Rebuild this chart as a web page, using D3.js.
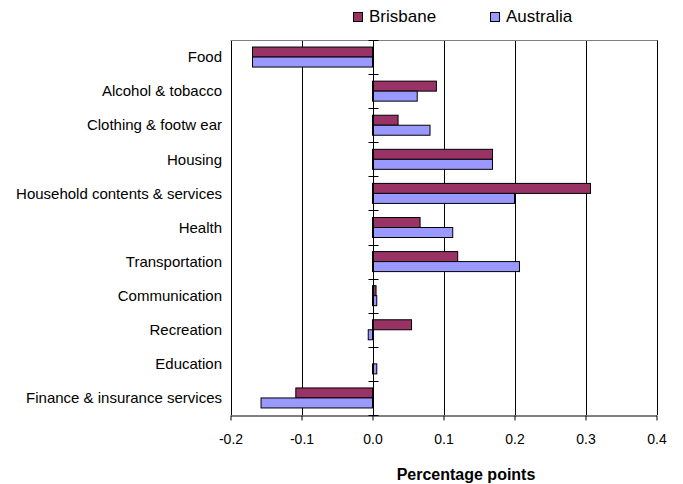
<!DOCTYPE html>
<html><head><meta charset="utf-8">
<script src="https://cdn.jsdelivr.net/npm/d3@7"></script>
<style>body{margin:0;background:#fff}svg{display:block}text{font-family:"Liberation Sans",Arial,sans-serif}</style>
</head><body><svg id="c" width="683" height="484"></svg>
<script>
const categories = ["Food","Alcohol & tobacco","Clothing & footw ear","Housing","Household contents & services","Health","Transportation","Communication","Recreation","Education","Finance & insurance services"];
const seriesNames = ["Brisbane","Australia"];
const brisbane = [-0.169,0.090,0.036,0.169,0.307,0.067,0.120,0.005,0.055,0.0,-0.108];
const australia = [-0.169,0.063,0.081,0.169,0.200,0.113,0.207,0.006,-0.006,0.006,-0.157];
const xTicks = [-0.2,-0.1,0.0,0.1,0.2,0.3,0.4];
const xTickLabels = ["-0.2","-0.1","0.0","0.1","0.2","0.3","0.4"];
const colors = ["#993366","#9999FF"];

const svg = d3.select("#c");
const m = {left:230.5, right:656.5, top:40, bottom:415};
const x = d3.scaleLinear().domain([-0.2,0.4]).range([m.left,m.right]);
const y = d3.scaleBand().domain(categories).range([m.top,m.bottom]).paddingInner(0).paddingOuter(0);

// gridlines
svg.append("g").selectAll("line").data(xTicks).join("line")
  .attr("x1",d=>Math.round(x(d))+0.5).attr("x2",d=>Math.round(x(d))+0.5)
  .attr("y1",m.top).attr("y2",m.bottom).attr("stroke","#000").attr("stroke-width",1);
// top border
svg.append("line").attr("x1",m.left).attr("x2",m.right+1).attr("y1",m.top+0.5).attr("y2",m.top+0.5).attr("stroke","#808080");

const data = categories.map((c,i)=>({c, vals:[brisbane[i],australia[i]]}));
const barH = 10;
const g = svg.append("g");
data.forEach(d=>{
  d.vals.forEach((v,j)=>{
    const y0 = y(d.c) + y.bandwidth()/2 - barH + j*barH;
    if (v===0) return;
    g.append("rect").attr("x",x(Math.min(0,v))).attr("width",Math.abs(x(v)-x(0)))
      .attr("y",y0).attr("height",barH).attr("fill",colors[j]).attr("stroke","#000").attr("stroke-width",1);
  });
});

// zero axis with ticks at category boundaries
const zx = Math.round(x(0))+0.5;
svg.append("line").attr("x1",zx).attr("x2",zx).attr("y1",m.top).attr("y2",m.bottom).attr("stroke","#000");
const bounds = d3.range(categories.length+1).map(i=>m.top + i*y.step());
svg.append("g").selectAll("line").data(bounds).join("line")
  .attr("x1",zx-5).attr("x2",zx+5).attr("y1",d=>Math.round(d)+0.5).attr("y2",d=>Math.round(d)+0.5).attr("stroke","#000");

// bottom axis
const xa = svg.append("g").attr("transform",`translate(0,${m.bottom+0.5})`)
  .call(d3.axisBottom(x).tickValues(xTicks).tickFormat((d,i)=>xTickLabels[i]).tickSize(5).tickSizeOuter(0));
xa.select(".domain").attr("stroke","#000");
xa.selectAll(".tick line").attr("stroke","#000");
xa.selectAll("text").attr("font-size",14).attr("fill","#000").attr("y",19).attr("dy","0.71em").attr("font-family","Liberation Sans, Arial, sans-serif");

// category labels
svg.append("g").selectAll("text").data(categories).join("text")
  .attr("x",222).attr("y",d=>y(d)+y.bandwidth()/2).attr("dy","0.35em")
  .attr("text-anchor","end").attr("font-size",15).attr("fill","#000").text(d=>d);

// axis title
svg.append("text").attr("x",466).attr("y",480).attr("text-anchor","middle")
  .attr("font-size",16).attr("font-weight","bold").text("Percentage points");

// legend
const lg = svg.append("g");
const lx = [353,490];
seriesNames.forEach((s,i)=>{
  lg.append("rect").attr("x",lx[i]+0.5).attr("y",12.5).attr("width",9).attr("height",9).attr("fill",colors[i]).attr("stroke","#000");
  lg.append("text").attr("x",lx[i]+16).attr("y",16.5).attr("dy","0.35em").attr("font-size",17).text(s);
});
</script></body></html>
